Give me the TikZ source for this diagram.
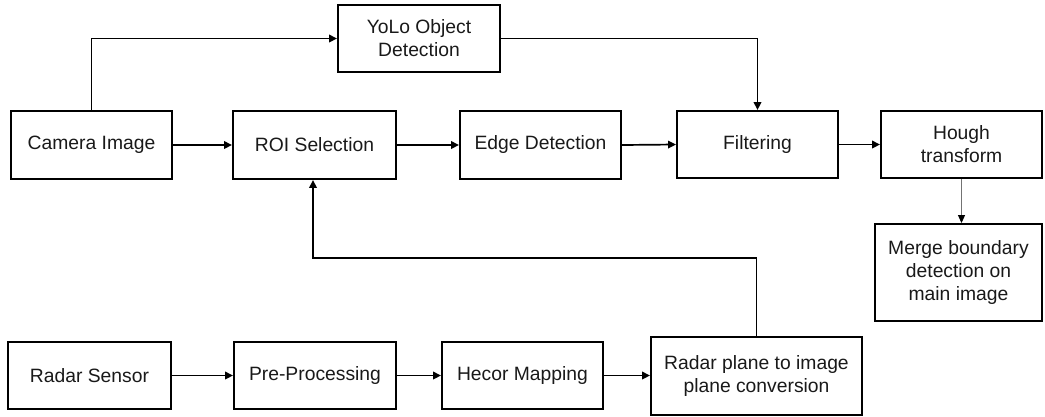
\documentclass[tikz,border=0pt]{standalone}
\usepackage{fontspec}
\setmainfont{Liberation Sans}
\usetikzlibrary{arrows.meta}
\begin{document}
\begin{tikzpicture}[x=1pt,y=-1pt,
  blk/.style={draw=black, line width=1.9pt, rectangle, inner sep=2pt, align=center,
    font=\fontsize{19.3pt}{23pt}\selectfont, text=black!90},
  arr/.style={draw=black, line width=1.7pt, -{Triangle[length=8pt,width=7.5pt]}},
  thinarr/.style={draw=black!55, line width=1pt, -{Triangle[length=8pt,width=7pt,fill=black,color=black]}}
]
\useasboundingbox (0,0) rectangle (1045,416);

% camera branch
\node[blk, minimum width=161pt, minimum height=68pt] (cam)   at (91.5,145)   {Camera Image};
\node[blk, minimum width=163pt, minimum height=68pt] (roi)   at (314.5,145)  {ROI Selection};
\node[blk, minimum width=161pt, minimum height=68pt] (edge)  at (540.5,145)  {Edge Detection};
\node[blk, minimum width=161pt, minimum height=67pt] (filt)  at (757.5,144.5){Filtering};
\node[blk, minimum width=161pt, minimum height=67pt] (hough) at (961.5,144.5){Hough\\transform};
\node[blk, minimum width=162pt, minimum height=67pt] (yolo)  at (419,38.5)   {YoLo Object\\Detection};
\node[blk, minimum width=167pt, minimum height=97pt] (merge) at (958.5,272.5){Merge boundary\\detection on\\main image};

% radar branch
\node[blk, minimum width=163pt, minimum height=67pt] (radar) at (89.5,375.5) {Radar Sensor};
\node[blk, minimum width=162pt, minimum height=67pt] (pre)   at (315,375.5)  {Pre-Processing};
\node[blk, minimum width=161pt, minimum height=67pt] (hecor) at (522.5,375.5){Hecor Mapping};
\node[blk, minimum width=211pt, minimum height=78pt] (rp)    at (756.5,376)  {Radar plane to image\\plane conversion};

\coordinate (fb) at (0,258);

% connectors
\draw[arr] (cam.north) |- (yolo.west);
\draw[arr] (yolo.east) -| (filt.north);
\draw[arr] (cam.east) -- (roi.west);
\draw[arr] (roi.east) -- (edge.west);
\draw[arr] (edge.east) -- (filt.west);
\draw[arr] (filt.east) -- (hough.west);
\draw[thinarr] (hough.south) -- (hough.south |- merge.north);

\draw[arr] (radar.east) -- (pre.west);
\draw[arr] (pre.east) -- (hecor.west);
\draw[arr] (hecor.east) -- (hecor.east -| rp.west);
\draw[arr] (rp.north) -- (rp.north |- fb) -| ([xshift=-1.5pt]roi.south);
\end{tikzpicture}
\end{document}
